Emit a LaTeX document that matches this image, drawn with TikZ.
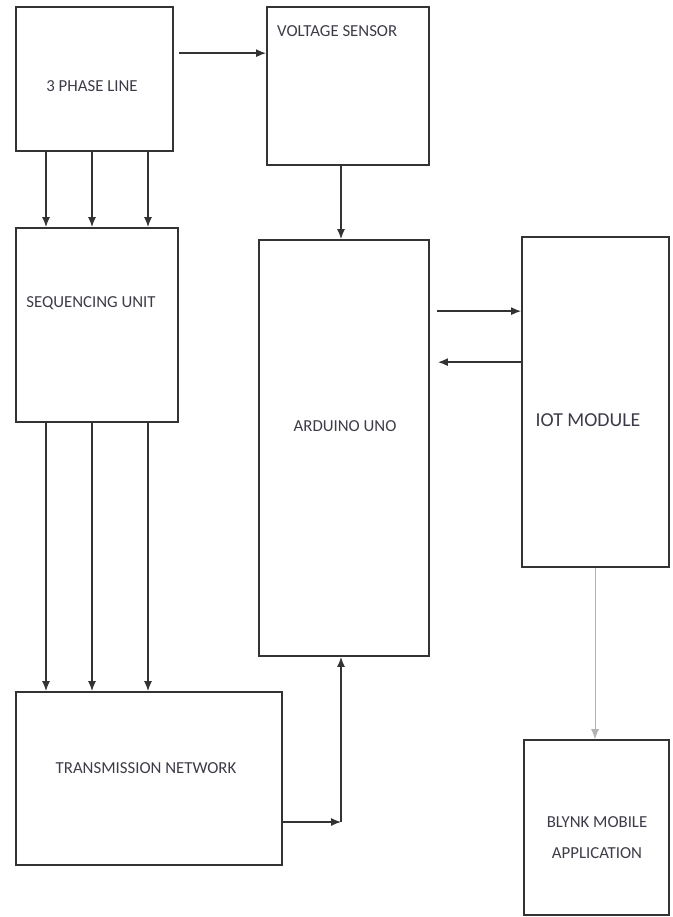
\documentclass[tikz,border=0pt]{standalone}
\usepackage{fontspec}
\setmainfont{Carlito}
\usepackage{xcolor}
\usetikzlibrary{arrows.meta,positioning,calc}
\definecolor{fline}{HTML}{333333}
\definecolor{ftext}{HTML}{3C3C48}

\begin{document}
\begin{tikzpicture}[x=1pt, y=-1pt,
  blockbox/.style={draw=fline, line width=1.7pt, inner sep=0pt},
  txt/.style={text=ftext, inner sep=0pt, font=\fontsize{16.8}{31}\selectfont},
  arr/.style={draw=fline, line width=1.5pt, -{Latex[length=10pt,width=8pt]}}]
\useasboundingbox (0,0) rectangle (672,917);
% ---------------- blocks ----------------
\node[blockbox, minimum width=157, minimum height=144] (phase) at (94.5,79) {};
\node[blockbox, minimum width=162, minimum height=158] (volt) at (348,86) {};
\node[blockbox, minimum width=162, minimum height=194] (seq) at (97,325) {};
\node[blockbox, minimum width=170, minimum height=416] (ard) at (344,448) {};
\node[blockbox, minimum width=147, minimum height=330] (iot) at (595.5,402) {};
\node[blockbox, minimum width=266, minimum height=173] (trans) at (149,778.5) {};
\node[blockbox, minimum width=145, minimum height=175] (blynk) at (596.5,827.5) {};
% ---------------- labels ----------------
\node[txt] (phasetxt) at (92,86) {3 PHASE LINE};
\node[txt, anchor=west] (volttxt) at (277,31) {VOLTAGE SENSOR};
\node[txt] (seqtxt) at (91,303) {SEQUENCING UNIT};
\node[txt] (ardtxt) at (345,426) {ARDUINO UNO};
\node[txt, font=\fontsize{19.8}{22}\selectfont] (iottxt) at (588,420) {IOT MODULE};
\node[txt] (transtxt) at (146,768) {TRANSMISSION NETWORK};
\node[txt, align=center] (blynktxt) at (597,838) {BLYNK MOBILE\\APPLICATION};
% ---------------- connections ----------------
\draw[arr] ([xshift=5,yshift=-47]phase.north east) -- ([yshift=-47]volt.north west);
\foreach \x in {46,92,148}{
  \draw[arr] (phase.south -| \x,0) -- (seq.north -| \x,0);
  \draw[arr] (seq.south -| \x,0) -- (trans.north -| \x,0);}
\draw[arr] (volt.south -| 341,0) -- (ard.north -| 341,0);
\draw[arr] ([xshift=7,yshift=-72]ard.north east) -- ([yshift=-75]iot.north west);
\draw[arr] ([yshift=-126]iot.north west) -- ([xshift=8,yshift=-123]ard.north east);
\draw[arr, draw=gray!60, line width=0.8pt] (iot.south -| 595,0) -- (blynk.north -| 595,0);
\coordinate (bend) at (341,822);
\draw[arr, line width=1.2pt] (trans.east |- bend) -- (bend);
\draw[arr] (bend) -- (ard.south -| bend);
\end{tikzpicture}
\end{document}
